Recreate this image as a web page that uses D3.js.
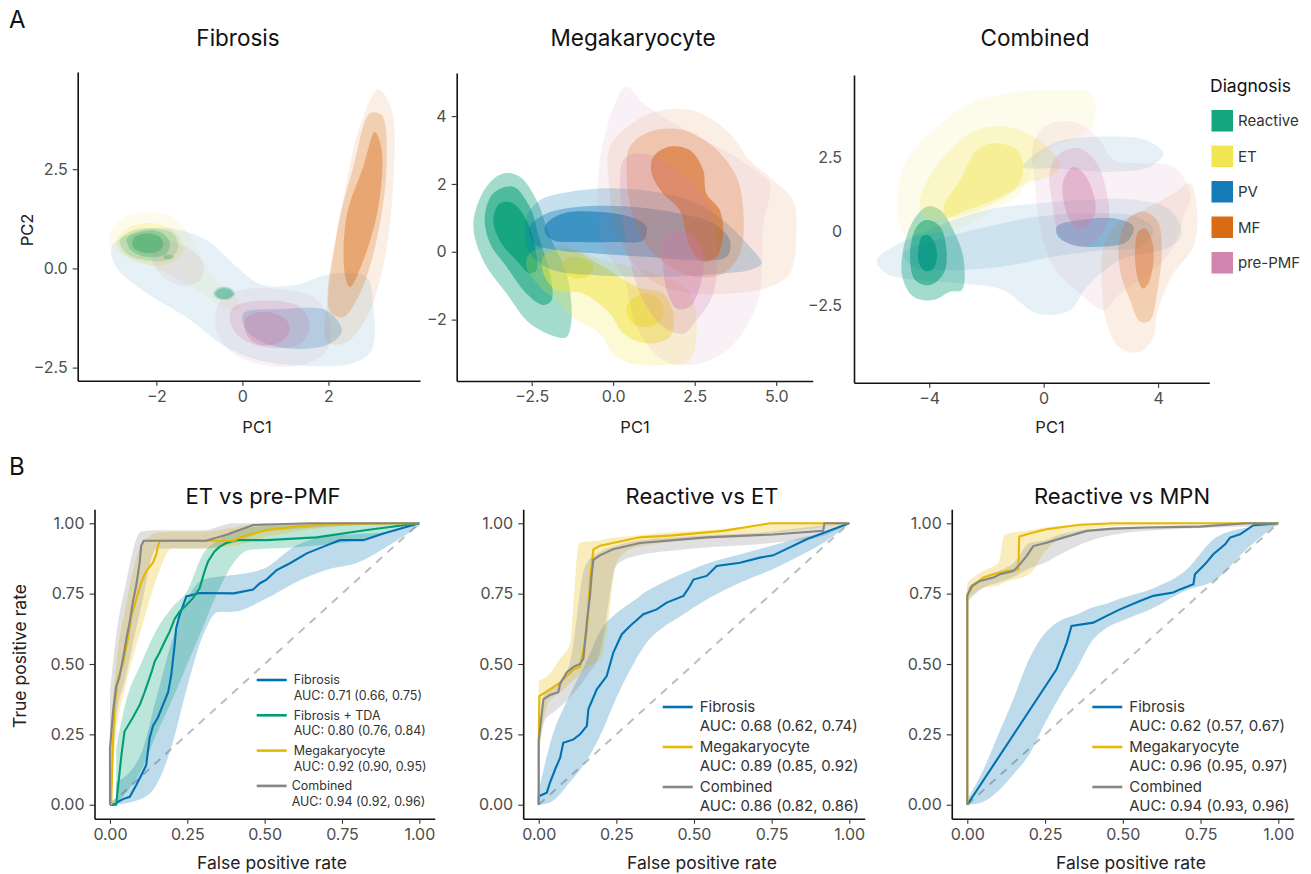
<!DOCTYPE html>
<html>
<head>
<meta charset="utf-8">
<script src="https://cdn.jsdelivr.net/npm/d3@7"></script>
<style>
  body { margin: 0; background: #fff; }
  text { font-family: Inter, "DejaVu Sans", sans-serif; }
</style>
</head>
<body>
<svg id="fig" width="1311" height="874"></svg>
<script>
// ---------- categories / colours ----------
const diagnoses = ["Reactive", "ET", "PV", "MF", "pre-PMF"];
const diagColors = ["#009E73", "#F0E442", "#0072B2", "#D55E00", "#CC79A7"];

// ---------- PCA density contours (density band, polygon in PC units) ----------
const fibReactive = [
  {level: 1, pts: [[-2.85,0.71],[-2.54,0.96],[-2.00,1.00],[-1.61,0.88],[-1.49,0.54],[-1.69,0.24],[-2.23,0.20],[-2.69,0.37]]},
  {level: 2, pts: [[-2.69,0.75],[-2.38,0.92],[-1.92,0.92],[-1.69,0.66],[-1.77,0.37],[-2.23,0.29],[-2.58,0.45]]},
  {level: 3, pts: [[-2.54,0.75],[-2.23,0.88],[-1.92,0.79],[-1.84,0.58],[-2.00,0.41],[-2.34,0.41],[-2.54,0.54]]},
  {level: 1, pts: [[-0.68,-0.64],[-0.56,-0.49],[-0.29,-0.49],[-0.17,-0.64],[-0.29,-0.77],[-0.56,-0.77]]},
  {level: 2, pts: [[-0.64,-0.64],[-0.54,-0.52],[-0.31,-0.52],[-0.21,-0.64],[-0.31,-0.75],[-0.54,-0.75]]},
  {level: 2, pts: [[-1.84,0.29],[-1.73,0.35],[-1.59,0.29],[-1.73,0.22]]}
];
const fibET = [
  {level: 0, pts: [[-3.12,0.71],[-2.85,1.21],[-2.31,1.42],[-1.69,1.34],[-1.30,0.96],[-0.99,0.37],[-0.68,-0.22],[-0.21,-0.64],[-0.06,-1.02],[-0.45,-0.98],[-0.91,-0.64],[-1.45,-0.30],[-2.23,0.12],[-2.85,0.37]]},
  {level: 1, pts: [[-2.93,0.71],[-2.62,1.04],[-2.00,1.13],[-1.53,0.88],[-1.38,0.45],[-1.69,0.12],[-2.31,0.12],[-2.77,0.37]]}
];
const fibPV = [
  {level: 0, pts: [[-3.04,0.54],[-2.38,0.96],[-1.61,1.00],[-0.83,0.71],[-0.21,0.12],[0.41,-0.39],[1.18,-0.43],[2.11,-0.13],[2.89,-0.22],[3.03,-0.81],[3.00,-2.07],[2.50,-2.41],[1.34,-2.45],[0.41,-2.32],[-0.37,-1.99],[-1.30,-1.23],[-2.31,-0.56],[-2.93,0.03]]},
  {level: 1, pts: [[0.02,-1.14],[0.95,-1.02],[1.96,-1.06],[2.31,-1.57],[2.03,-1.90],[1.34,-2.03],[0.56,-1.90],[0.10,-1.57]]}
];
const fibMF = [
  {level: 0, pts: [[1.92,-1.73],[2.03,-0.39],[2.34,1.72],[2.73,3.57],[3.16,4.51],[3.47,3.99],[3.51,2.14],[3.27,0.03],[2.89,-1.23],[2.42,-1.86],[2.03,-1.90]]},
  {level: 1, pts: [[2.03,-1.06],[2.19,0.88],[2.58,2.56],[2.97,3.91],[3.24,3.86],[3.35,2.56],[3.12,0.71],[2.73,-0.64],[2.34,-1.23]]},
  {level: 2, pts: [[2.38,-0.13],[2.42,1.30],[2.81,2.56],[3.08,3.44],[3.24,2.98],[3.16,1.55],[2.81,0.20],[2.50,-0.47]]}
];
const fibPrePMF = [
  {level: 0, pts: [[-1.92,0.71],[-1.30,0.54],[-0.91,0.12],[-0.99,-0.30],[-1.45,-0.43],[-1.92,-0.13],[-2.11,0.29]]},
  {level: 0, pts: [[-0.52,-0.81],[-0.06,-0.56],[0.79,-0.51],[1.65,-0.72],[2.03,-1.31],[1.96,-2.07],[1.34,-2.45],[0.56,-2.45],[-0.21,-2.15],[-0.60,-1.57]]},
  {level: 1, pts: [[-0.21,-0.98],[0.56,-0.81],[1.34,-0.98],[1.57,-1.48],[1.34,-1.90],[0.56,-1.99],[-0.06,-1.73],[-0.29,-1.31]]},
  {level: 2, pts: [[0.10,-1.23],[0.56,-1.10],[1.03,-1.31],[1.07,-1.65],[0.79,-1.90],[0.33,-1.90],[0.06,-1.57]]}
];

const megReactive = [
  {level: 2, pts: [[-4.29,0.84],[-3.89,1.92],[-3.37,2.31],[-2.86,2.21],[-2.35,1.52],[-1.94,0.44],[-1.43,-0.64],[-1.28,-2.02],[-1.43,-2.51],[-1.74,-2.51],[-2.56,-2.11],[-3.27,-1.23],[-3.99,-0.25]]},
  {level: 3, pts: [[-3.94,1.03],[-3.68,1.72],[-3.07,1.92],[-2.56,1.33],[-2.25,0.34],[-1.94,-0.64],[-1.89,-1.43],[-2.15,-1.57],[-2.66,-1.23],[-3.27,-0.44],[-3.78,0.25]]},
  {level: 4, pts: [[-3.68,0.93],[-3.48,1.43],[-3.07,1.43],[-2.66,0.93],[-2.40,0.15],[-2.35,-0.54],[-2.56,-0.64],[-2.97,-0.25],[-3.43,0.25]]}
];
const megET = [
  {level: 1, pts: [[-2.56,-0.05],[-1.53,0.15],[-0.31,-0.25],[0.51,-0.44],[1.53,-0.74],[2.35,-1.23],[2.56,-2.21],[2.35,-3.20],[1.53,-3.34],[0.51,-3.29],[0,-3.00],[-0.41,-2.41],[-1.23,-1.92],[-1.74,-1.43],[-2.25,-1.03],[-2.66,-0.44]]},
  {level: 3, pts: [[-2.15,-0.15],[-1.33,0.05],[-0.31,-0.44],[0.72,-1.03],[1.53,-1.23],[1.84,-1.82],[1.74,-2.51],[1.02,-2.70],[0.31,-2.41],[-0.10,-1.82],[-0.92,-1.23],[-1.74,-1.13],[-2.10,-0.74]]},
  {level: 4, pts: [[-1.58,-0.34],[-1.12,-0.15],[-0.61,-0.44],[-0.82,-0.74],[-1.33,-0.74]]},
  {level: 4, pts: [[0.41,-1.62],[0.92,-1.23],[1.43,-1.43],[1.53,-1.92],[1.12,-2.21],[0.61,-2.11]]}
];
const megPV = [
  {level: 1, pts: [[-2.66,1.03],[-2.25,1.52],[-1.33,1.77],[0,1.87],[1.53,1.72],[2.56,1.43],[3.37,0.93],[4.19,0.15],[4.55,-0.34],[4.19,-0.54],[3.37,-0.64],[1.53,-0.74],[-0.51,-0.69],[-1.84,-0.54],[-2.56,-0.05],[-2.71,0.54]]},
  {level: 2, pts: [[-2.56,0.74],[-2.04,1.13],[-1.02,1.33],[0.51,1.33],[2.04,1.13],[3.07,0.84],[3.58,0.34],[3.48,-0.15],[2.56,-0.25],[1.02,-0.15],[-0.51,-0.05],[-1.74,0.05],[-2.45,0.25]]},
  {level: 3, pts: [[-2.04,0.84],[-1.53,1.13],[-0.51,1.18],[0.51,1.03],[1.02,0.74],[0.92,0.34],[0,0.29],[-1.02,0.29],[-1.84,0.34],[-2.10,0.59]]}
];
const megMF = [
  {level: 0, pts: [[-0.10,3.10],[0.72,3.88],[1.53,4.18],[2.56,4.13],[3.58,3.49],[4.19,2.70],[4.91,2.11],[5.52,1.52],[5.62,0.54],[5.42,-0.64],[4.81,-1.03],[3.58,-1.23],[2.56,-1.23],[1.53,-1.03],[0.72,-0.44],[0.10,0.54],[-0.10,1.72]]},
  {level: 1, pts: [[0.51,3.10],[1.12,3.54],[2.15,3.59],[3.07,3.10],[3.78,2.21],[3.99,1.23],[3.89,-0.05],[3.37,-0.64],[2.56,-0.74],[1.74,-0.44],[0.92,0.34],[0.51,1.43],[0.41,2.41]]},
  {level: 3, pts: [[1.23,2.80],[1.74,3.10],[2.35,3.00],[2.76,2.41],[2.86,1.72],[3.27,1.23],[3.37,0.54],[3.17,-0.15],[2.76,-0.29],[2.35,0.15],[2.04,1.23],[1.53,1.72],[1.18,2.31]]}
];
const megPrePMF = [
  {level: 0, pts: [[-0.41,2.70],[0.10,4.47],[0.41,4.87],[0.92,4.38],[1.53,3.98],[2.56,3.39],[3.58,2.90],[4.50,2.31],[4.81,2.02],[4.60,0.74],[4.50,-1.23],[4.09,-2.21],[3.37,-3.00],[2.35,-3.34],[1.53,-3.20],[0.72,-2.21],[0.31,-0.74],[-0.31,0.15],[-0.46,1.23]]},
  {level: 1, pts: [[0.31,2.70],[0.72,2.90],[1.53,2.70],[2.56,1.92],[2.97,1.23],[3.17,0.25],[3.07,-1.23],[2.56,-2.02],[2.15,-2.41],[1.53,-2.21],[0.92,-1.43],[0.51,-0.25],[0.26,1.23]]},
  {level: 2, pts: [[1.53,0.34],[1.94,0.59],[2.45,0.44],[2.76,-0.05],[2.66,-1.03],[2.35,-1.62],[1.94,-1.67],[1.64,-1.13],[1.53,-0.34]]}
];

const comReactive = [
  {level: 2, pts: [[-4.96,-1.43],[-4.67,0.15],[-4.09,0.82],[-3.62,0.71],[-3.16,0.03],[-2.81,-0.87],[-2.86,-1.99],[-3.27,-2.05],[-3.85,-2.33],[-4.55,-2.22]]},
  {level: 3, pts: [[-4.67,-0.75],[-4.44,0.15],[-4.09,0.37],[-3.62,0.15],[-3.39,-0.75],[-3.50,-1.43],[-3.97,-1.82],[-4.49,-1.66]]},
  {level: 4, pts: [[-4.38,-0.64],[-4.26,-0.19],[-4.03,-0.14],[-3.80,-0.42],[-3.74,-0.98],[-3.91,-1.32],[-4.20,-1.32],[-4.38,-0.98]]}
];
const comET = [
  {level: 0, pts: [[-5.14,1.05],[-4.79,2.40],[-3.74,3.52],[-2.57,4.31],[-1.29,4.65],[0.34,4.76],[1.51,4.71],[1.80,4.31],[1.68,3.52],[1.27,3.19],[0.34,2.85],[-0.24,2.40],[-0.83,1.27],[-1.76,0.71],[-2.81,0.15],[-3.97,-0.08],[-4.90,-0.08]]},
  {level: 1, pts: [[-4.32,1.05],[-3.85,2.06],[-3.15,2.85],[-2.34,3.41],[-1.29,3.52],[-0.36,3.19],[0.34,2.62],[0.57,2.17],[0.22,1.84],[-0.59,1.61],[-1.52,1.05],[-2.57,0.60],[-3.62,0.37],[-4.20,0.48]]},
  {level: 2, pts: [[-3.50,0.82],[-2.92,1.72],[-2.34,2.74],[-1.76,2.96],[-0.94,2.74],[-0.71,2.06],[-0.94,1.50],[-1.76,1.05],[-2.69,0.71],[-3.39,0.48]]}
];
const comPV = [
  {level: 0, pts: [[-5.84,-0.98],[-5.25,-0.53],[-3.74,0.15],[-1.99,0.71],[-0.24,0.93],[1.51,1.05],[3.26,1.05],[4.42,0.71],[4.83,-0.08],[4.42,-0.53],[2.67,-0.98],[1.51,-1.88],[0.92,-2.67],[-0.24,-2.78],[-1.41,-1.99],[-2.81,-1.77],[-4.32,-1.66],[-5.49,-1.43]]},
  {level: 0, pts: [[-0.71,2.17],[0.34,2.96],[2.09,3.19],[3.60,3.07],[4.18,2.62],[3.72,2.17],[2.44,2.00],[1.27,2.06],[0.34,2.12]]},
  {level: 0, pts: [[-4.90,-0.75],[-3.74,-0.30],[-1.99,0.15],[-0.24,0.48],[1.51,0.60],[3.26,0.48],[3.84,0.03],[3.37,-0.53],[2.09,-0.64],[0.34,-0.87],[-1.41,-1.20],[-3.16,-1.32],[-4.55,-1.20]]},
  {level: 2, pts: [[0.46,0.15],[1.27,0.37],[2.44,0.43],[3.14,0.15],[2.90,-0.36],[1.97,-0.53],[1.04,-0.47],[0.51,-0.19]]}
];
const comMF = [
  {level: 0, pts: [[2.09,-0.53],[2.44,0.15],[3.26,0.60],[4.54,1.27],[5.12,1.61],[5.36,0.71],[5.24,-0.53],[4.54,-1.43],[3.96,-2.78],[3.84,-3.57],[3.37,-4.08],[2.67,-3.96],[2.21,-3.12],[2.03,-1.88]]},
  {level: 1, pts: [[2.67,-0.19],[3.02,0.48],[3.49,0.65],[3.96,0.37],[4.13,-0.53],[3.96,-2.11],[3.72,-3.01],[3.37,-3.06],[3.02,-2.33],[2.67,-1.32]]},
  {level: 2, pts: [[3.20,-0.53],[3.31,-0.02],[3.55,0.09],[3.78,-0.30],[3.84,-0.98],[3.66,-1.77],[3.46,-1.94],[3.25,-1.43]]}
];
const comPrePMF = [
  {level: 0, pts: [[-0.36,2.96],[0.11,3.58],[1.04,3.69],[1.86,3.19],[2.44,2.40],[3.37,2.29],[4.54,2.17],[5.12,1.27],[4.89,0.48],[4.54,-0.53],[3.84,-1.32],[2.67,-2.11],[2.09,-2.67],[1.27,-2.11],[0.34,-1.20],[-0.13,0.15],[-0.30,1.50]]},
  {level: 1, pts: [[0.22,2.06],[0.57,2.62],[1.27,2.79],[1.86,2.29],[2.21,1.27],[2.27,0.37],[1.86,-0.30],[1.27,-0.53],[0.57,-0.19],[0.34,0.71]]},
  {level: 2, pts: [[0.69,1.72],[1.04,2.17],[1.39,1.95],[1.74,1.27],[1.80,0.60],[1.51,0.15],[1.16,0.09],[0.86,0.48],[0.69,1.05]]}
];

// ---------- PCA axis ticks ----------
const fibXTicks = [-2, 0, 2], fibXLabels = ["\u22122", "0", "2"];
const fibYTicks = [-2.5, 0, 2.5], fibYLabels = ["\u22122.5", "0.0", "2.5"];
const megXTicks = [-2.5, 0, 2.5, 5], megXLabels = ["\u22122.5", "0.0", "2.5", "5.0"];
const megYTicks = [-2, 0, 2, 4], megYLabels = ["\u22122", "0", "2", "4"];
const comXTicks = [-4, 0, 4], comXLabels = ["\u22124", "0", "4"];
const comYTicks = [-2.5, 0, 2.5], comYLabels = ["\u22122.5", "0", "2.5"];

// ---------- ROC curves ----------
const rocTicks = [0, 0.25, 0.5, 0.75, 1];
const rocLabels = ["0.00", "0.25", "0.50", "0.75", "1.00"];
const models = ["Fibrosis", "Fibrosis + TDA", "Megakaryocyte", "Combined"];
const modelColors = ["#0072B2", "#009E73", "#E7B800", "#868686"];

// ET vs pre-PMF
const etPmfFibrosis = [[0,0],[0.01,0],[0.042,0.02],[0.064,0.028],[0.085,0.07],[0.101,0.105],[0.117,0.14],[0.128,0.236],[0.139,0.28],[0.155,0.31],[0.171,0.354],[0.188,0.40],[0.198,0.46],[0.209,0.567],[0.214,0.627],[0.225,0.674],[0.247,0.74],[0.268,0.746],[0.29,0.752],[0.4,0.751],[0.463,0.765],[0.485,0.787],[0.506,0.80],[0.539,0.834],[0.582,0.858],[0.636,0.893],[0.69,0.917],[0.743,0.94],[0.819,0.94],[0.884,0.964],[1,1]];
const etPmfTda = [[0,0],[0.02,0],[0.037,0.176],[0.047,0.26],[0.074,0.31],[0.096,0.354],[0.112,0.40],[0.134,0.47],[0.145,0.51],[0.16,0.54],[0.177,0.58],[0.193,0.615],[0.209,0.66],[0.225,0.686],[0.247,0.71],[0.268,0.733],[0.29,0.77],[0.306,0.83],[0.317,0.864],[0.338,0.90],[0.355,0.917],[0.376,0.93],[0.408,0.94],[0.506,0.94],[0.668,0.95],[0.83,0.976],[1,1]];
const etPmfMega = [[0.004,0],[0.01,0.235],[0.015,0.35],[0.026,0.45],[0.042,0.50],[0.058,0.59],[0.069,0.67],[0.085,0.73],[0.101,0.79],[0.117,0.83],[0.139,0.86],[0.15,0.89],[0.155,0.92],[0.162,0.938],[0.4,0.938],[0.42,0.95],[0.506,0.976],[0.614,0.99],[0.72,0.998],[1,1]];
const etPmfComb = [[0,0],[0,0.2],[0.01,0.33],[0.02,0.42],[0.03,0.45],[0.044,0.53],[0.053,0.59],[0.064,0.65],[0.074,0.72],[0.085,0.78],[0.096,0.86],[0.101,0.92],[0.109,0.938],[0.31,0.938],[0.377,0.959],[0.463,0.994],[0.647,1],[1,1]];
const etPmfFibrosisBand = [[0.02,0,0.08],[0.1,0.02,0.18],[0.15,0.07,0.38],[0.2,0.21,0.58],[0.25,0.42,0.73],[0.3,0.60,0.80],[0.35,0.685,0.81],[0.4,0.686,0.816],[0.5,0.73,0.84],[0.6,0.79,0.92],[0.7,0.835,0.955],[0.8,0.86,0.962],[0.9,0.92,0.97],[1,0.99,1]];
const etPmfTdaBand = [[0.02,0,0.2],[0.05,0.04,0.36],[0.1,0.12,0.50],[0.15,0.25,0.62],[0.2,0.37,0.70],[0.25,0.50,0.76],[0.3,0.63,0.89],[0.35,0.76,0.94],[0.4,0.86,0.975],[0.45,0.905,0.985],[0.6,0.915,0.994],[0.8,0.94,1],[1,1,1]];
const etPmfMegaBand = [[0,0,0.25],[0.02,0.25,0.50],[0.05,0.42,0.70],[0.1,0.62,0.92],[0.15,0.80,0.965],[0.2,0.91,0.97],[0.3,0.91,0.97],[0.4,0.92,0.985],[0.5,0.95,1],[0.6,0.97,1],[0.75,0.99,1],[1,1,1]];
const etPmfCombBand = [[0,0,0.4],[0.02,0.3,0.6],[0.05,0.45,0.78],[0.1,0.7,0.97],[0.15,0.91,0.975],[0.3,0.91,0.975],[0.4,0.93,1],[0.5,0.97,1],[1,1,1]];
const etPmfAuc = ["AUC: 0.71 (0.66, 0.75)", "AUC: 0.80 (0.76, 0.84)", "AUC: 0.92 (0.90, 0.95)", "AUC: 0.94 (0.92, 0.96)"];

// Reactive vs ET
const reEtFibrosis = [[0,0],[0,0.03],[0.026,0.043],[0.036,0.078],[0.053,0.126],[0.069,0.167],[0.079,0.22],[0.112,0.232],[0.133,0.25],[0.155,0.28],[0.16,0.34],[0.187,0.41],[0.219,0.457],[0.24,0.54],[0.267,0.605],[0.294,0.635],[0.337,0.677],[0.38,0.694],[0.412,0.718],[0.466,0.742],[0.487,0.777],[0.498,0.80],[0.541,0.813],[0.573,0.848],[0.648,0.86],[0.712,0.878],[0.755,0.886],[0.863,0.943],[1,1]];
const reEtMega = [[0,0],[0,0.2],[0.002,0.386],[0.036,0.41],[0.069,0.434],[0.09,0.457],[0.112,0.48],[0.133,0.49],[0.144,0.55],[0.155,0.62],[0.165,0.80],[0.176,0.907],[0.197,0.92],[0.326,0.95],[0.433,0.957],[0.594,0.973],[0.745,1],[1,1]];
const reEtComb = [[0,0],[0,0.23],[0.015,0.374],[0.036,0.39],[0.063,0.40],[0.069,0.43],[0.09,0.47],[0.112,0.49],[0.133,0.50],[0.144,0.52],[0.155,0.65],[0.165,0.74],[0.17,0.81],[0.176,0.87],[0.197,0.886],[0.24,0.908],[0.326,0.93],[0.54,0.95],[0.755,0.96],[0.916,0.973],[0.92,1],[1,1]];
const reEtFibrosisBand = [[0,0,0.05],[0.04,0.01,0.23],[0.1,0.08,0.39],[0.15,0.15,0.50],[0.2,0.25,0.62],[0.25,0.38,0.68],[0.3,0.49,0.72],[0.35,0.58,0.76],[0.4,0.63,0.79],[0.45,0.665,0.815],[0.55,0.735,0.86],[0.65,0.79,0.89],[0.75,0.835,0.92],[0.85,0.89,0.95],[0.95,0.955,0.975],[1,1,1]];
const reEtMegaBand = [[0,0.17,0.44],[0.03,0.36,0.46],[0.07,0.40,0.52],[0.1,0.43,0.57],[0.13,0.46,0.93],[0.16,0.49,0.935],[0.2,0.52,0.94],[0.22,0.62,0.945],[0.25,0.86,0.95],[0.3,0.91,0.955],[0.4,0.93,0.965],[0.6,0.95,0.98],[0.8,0.97,1],[1,1,1]];
const reEtCombBand = [[0,0.2,0.26],[0.02,0.30,0.40],[0.05,0.33,0.42],[0.1,0.38,0.50],[0.15,0.45,0.85],[0.2,0.55,0.90],[0.25,0.85,0.92],[0.3,0.88,0.935],[0.5,0.91,0.955],[0.75,0.93,0.97],[0.9,0.95,0.99],[1,1,1]];
const reEtAuc = ["AUC: 0.68 (0.62, 0.74)", "AUC: 0.89 (0.85, 0.92)", "AUC: 0.86 (0.82, 0.86)"];

// Reactive vs MPN
const reMpnFibrosis = [[0,0],[0.287,0.481],[0.32,0.576],[0.335,0.635],[0.405,0.647],[0.448,0.671],[0.491,0.694],[0.555,0.724],[0.598,0.742],[0.662,0.754],[0.684,0.765],[0.727,0.783],[0.732,0.819],[0.764,0.854],[0.791,0.89],[0.829,0.925],[0.845,0.949],[0.877,0.961],[0.92,0.993],[1,1]];
const reMpnMega = [[0,0],[0,0.748],[0.019,0.777],[0.051,0.807],[0.084,0.819],[0.126,0.83],[0.164,0.836],[0.167,0.953],[0.212,0.967],[0.255,0.979],[0.362,0.995],[0.469,1],[1,1]];
const reMpnComb = [[0,0],[0,0.742],[0.014,0.777],[0.041,0.795],[0.084,0.807],[0.105,0.819],[0.148,0.83],[0.169,0.854],[0.191,0.884],[0.212,0.919],[0.255,0.931],[0.309,0.949],[0.384,0.973],[0.469,0.981],[0.577,0.985],[0.748,0.988],[0.898,1],[1,1]];
const reMpnFibrosisBand = [[0,0,0.02],[0.05,0.01,0.12],[0.1,0.05,0.25],[0.15,0.11,0.38],[0.2,0.18,0.52],[0.25,0.29,0.61],[0.3,0.39,0.655],[0.35,0.48,0.675],[0.4,0.58,0.70],[0.45,0.63,0.715],[0.5,0.655,0.735],[0.6,0.70,0.77],[0.7,0.76,0.83],[0.8,0.80,0.95],[0.9,0.91,0.985],[1,1,1]];
const reMpnMegaBand = [[0,0.73,0.79],[0.05,0.77,0.83],[0.1,0.78,0.86],[0.12,0.79,0.96],[0.2,0.82,0.975],[0.25,0.90,0.985],[0.35,0.97,0.995],[0.5,0.99,1],[1,1,1]];
const reMpnCombBand = [[0,0.72,0.77],[0.05,0.77,0.81],[0.1,0.79,0.83],[0.15,0.81,0.86],[0.2,0.84,0.93],[0.25,0.86,0.94],[0.3,0.89,0.96],[0.4,0.94,0.98],[0.6,0.975,0.99],[1,0.99,1]];
const reMpnAuc = ["AUC: 0.62 (0.57, 0.67)", "AUC: 0.96 (0.95, 0.97)", "AUC: 0.94 (0.93, 0.96)"];

// ---------- drawing ----------
const svg = d3.select("#fig");
const font = "Inter, 'DejaVu Sans', sans-serif";
// opacity of one density band; nested bands stack up
const levelAlpha = [0.1, 0.22, 0.36, 0.52, 0.7];

function styleAxis(g, fs) {
  g.select(".domain").attr("stroke", "#111").attr("stroke-width", 1.6);
  g.selectAll(".tick line").attr("stroke", "#333").attr("stroke-width", 1.1);
  g.selectAll(".tick text").attr("fill", "#4d4d4d").style("font-size", fs + "px").style("font-family", font);
}

function drawDensityPanel(p) {
  const x = d3.scaleLinear().domain(p.xDomain).range(p.xRange);
  const y = d3.scaleLinear().domain(p.yDomain).range(p.yRange);
  const g = svg.append("g");
  const line = d3.line().x(d => x(d[0])).y(d => y(d[1])).curve(d3.curveCatmullRomClosed.alpha(0.5));

  p.groups.forEach((grp, gi) => {
    grp.forEach(poly => {
      g.append("path")
        .attr("d", line(poly.pts))
        .attr("fill", diagColors[gi])
        .attr("fill-opacity", levelAlpha[poly.level]);
    });
  });

  const xa = g.append("g").attr("transform", `translate(0,${p.yRange[0]})`)
    .call(d3.axisBottom(x).tickValues(p.xTicks).tickFormat((d, i) => p.xLabels[i]).tickSize(5).tickPadding(5).tickSizeOuter(0));
  styleAxis(xa, 16);
  const ya = g.append("g").attr("transform", `translate(${p.xRange[0]},0)`)
    .call(d3.axisLeft(y).tickValues(p.yTicks).tickFormat((d, i) => p.yLabels[i]).tickSize(p.yTickSize).tickPadding(p.yTickSize ? 5 : 12).tickSizeOuter(0));
  styleAxis(ya, 16);

  g.append("text").attr("x", p.titleX).attr("y", 46).attr("text-anchor", "middle")
    .style("font-size", "22.5px").attr("fill", "#111").text(p.title);
  g.append("text").attr("x", p.xLabelX).attr("y", 433).attr("text-anchor", "middle")
    .style("font-size", "16.5px").attr("fill", "#222").text("PC1");
}

drawDensityPanel({
  title: "Fibrosis", titleX: 238, xLabelX: 257,
  xDomain: [-3.83, 4.13], xRange: [77.7, 420], yDomain: [-2.83, 4.95], yRange: [380.7, 72],
  xTicks: fibXTicks, xLabels: fibXLabels, yTicks: fibYTicks, yLabels: fibYLabels, yTickSize: 5,
  groups: [fibReactive, fibET, fibPV, fibMF, fibPrePMF]
});
drawDensityPanel({
  title: "Megakaryocyte", titleX: 633, xLabelX: 635,
  xDomain: [-4.8, 6.12], xRange: [456.7, 812.7], yDomain: [-3.81, 5.27], yRange: [381, 73],
  xTicks: megXTicks, xLabels: megXLabels, yTicks: megYTicks, yLabels: megYLabels, yTickSize: 5,
  groups: [megReactive, megET, megPV, megMF, megPrePMF]
});
drawDensityPanel({
  title: "Combined", titleX: 1035, xLabelX: 1050,
  xDomain: [-6.63, 5.79], xRange: [854, 1209.3], yDomain: [-5.12, 5.27], yRange: [382.7, 75],
  xTicks: comXTicks, xLabels: comXLabels, yTicks: comYTicks, yLabels: comYLabels, yTickSize: 0,
  groups: [comReactive, comET, comPV, comMF, comPrePMF]
});

svg.append("text").attr("x", 27).attr("y", 230).attr("transform", "rotate(-90,27,230)")
  .attr("text-anchor", "middle").attr("dy", "0.35em").style("font-size", "16.5px").attr("fill", "#222").text("PC2");

// Diagnosis legend
const leg = svg.append("g");
leg.append("text").attr("x", 1210).attr("y", 92).style("font-size", "17.5px").attr("fill", "#111").text("Diagnosis");
diagnoses.forEach((d, i) => {
  const yy = 110 + i * 35.5;
  leg.append("rect").attr("x", 1211.5).attr("y", yy).attr("width", 21.5).attr("height", 21.5)
    .attr("fill", diagColors[i]).attr("fill-opacity", 0.92);
  leg.append("text").attr("x", 1238).attr("y", yy + 10.75).attr("dy", "0.35em")
    .style("font-size", "15px").attr("fill", "#333").text(d);
});

// ROC panels
function drawRocPanel(p) {
  const x = d3.scaleLinear().domain([-0.05, 1.05]).range(p.xRange);
  const y = d3.scaleLinear().domain([-0.05, 1.05]).range([818.8, 509.2]);
  const g = svg.append("g");
  const area = d3.area().x(d => x(d[0])).y0(d => y(d[1])).y1(d => y(d[2])).curve(d3.curveMonotoneX);
  const line = d3.line().x(d => x(d[0])).y(d => y(d[1]));

  g.append("line").attr("x1", x(0)).attr("y1", y(0)).attr("x2", x(1)).attr("y2", y(1))
    .attr("stroke", "#bdbdbd").attr("stroke-width", 2).attr("stroke-dasharray", "8,7");

  p.series.forEach(s => {
    g.append("path").attr("d", area(s.band)).attr("fill", modelColors[s.model]).attr("fill-opacity", 0.26);
  });
  p.series.forEach(s => {
    g.append("path").attr("d", line(s.curve)).attr("fill", "none")
      .attr("stroke", modelColors[s.model]).attr("stroke-width", 2.1);
  });

  const xa = g.append("g").attr("transform", `translate(0,${y.range()[0]})`)
    .call(d3.axisBottom(x).tickValues(rocTicks).tickFormat((d, i) => rocLabels[i]).tickSize(5).tickPadding(5).tickSizeOuter(0));
  styleAxis(xa, 16);
  const ya = g.append("g").attr("transform", `translate(${p.xRange[0]},0)`)
    .call(d3.axisLeft(y).tickValues(rocTicks).tickFormat((d, i) => rocLabels[i]).tickSize(5).tickPadding(5).tickSizeOuter(0));
  styleAxis(ya, 16);

  g.append("text").attr("x", p.titleX).attr("y", 504).attr("text-anchor", "middle")
    .style("font-size", "22px").attr("fill", "#111").text(p.title);
  g.append("text").attr("x", p.xLabelX).attr("y", 869).attr("text-anchor", "middle")
    .style("font-size", "17.5px").attr("fill", "#222").text("False positive rate");

  // legend
  p.series.forEach((s, i) => {
    const cy = p.legY + i * p.legStep;
    const tx = p.legX + 37 + (s.model === 3 && p.legFs < 14 ? -2 : 0);
    g.append("line").attr("x1", p.legX).attr("x2", p.legX + 30).attr("y1", cy).attr("y2", cy)
      .attr("stroke", modelColors[s.model]).attr("stroke-width", 2.6);
    g.append("text").attr("x", tx).attr("y", cy).attr("dy", "0.35em")
      .style("font-size", p.legFs + "px").attr("fill", "#333").text(models[s.model]);
    g.append("text").attr("x", tx).attr("y", cy + p.legLine).attr("dy", "0.35em")
      .style("font-size", p.legFs + "px").attr("fill", "#333").text(p.auc[i]);
  });
}

drawRocPanel({
  title: "ET vs pre-PMF", titleX: 263, xLabelX: 272, xRange: [94.5, 434.8],
  legX: 256.7, legY: 680, legStep: 35.3, legLine: 15.8, legFs: 12.5, auc: etPmfAuc,
  series: [
    {model: 0, curve: etPmfFibrosis, band: etPmfFibrosisBand},
    {model: 1, curve: etPmfTda, band: etPmfTdaBand},
    {model: 2, curve: etPmfMega, band: etPmfMegaBand},
    {model: 3, curve: etPmfComb, band: etPmfCombBand}
  ]
});
drawRocPanel({
  title: "Reactive vs ET", titleX: 702, xLabelX: 702, xRange: [523.2, 864.8],
  legX: 662.7, legY: 707, legStep: 40, legLine: 18.5, legFs: 15, auc: reEtAuc,
  series: [
    {model: 0, curve: reEtFibrosis, band: reEtFibrosisBand},
    {model: 2, curve: reEtMega, band: reEtMegaBand},
    {model: 3, curve: reEtComb, band: reEtCombBand}
  ]
});
drawRocPanel({
  title: "Reactive vs MPN", titleX: 1122, xLabelX: 1131, xRange: [951.75, 1293.85],
  legX: 1092.3, legY: 707, legStep: 40, legLine: 18.5, legFs: 15, auc: reMpnAuc,
  series: [
    {model: 0, curve: reMpnFibrosis, band: reMpnFibrosisBand},
    {model: 2, curve: reMpnMega, band: reMpnMegaBand},
    {model: 3, curve: reMpnComb, band: reMpnCombBand}
  ]
});

svg.append("text").attr("x", 20).attr("y", 656).attr("transform", "rotate(-90,20,656)")
  .attr("text-anchor", "middle").attr("dy", "0.35em").style("font-size", "17.5px").attr("fill", "#222").text("True positive rate");

// panel letters
svg.append("text").attr("x", 9).attr("y", 28).style("font-size", "24px").attr("fill", "#111").text("A");
svg.append("text").attr("x", 9).attr("y", 475).style("font-size", "24px").attr("fill", "#111").text("B");
</script>
</body>
</html>
